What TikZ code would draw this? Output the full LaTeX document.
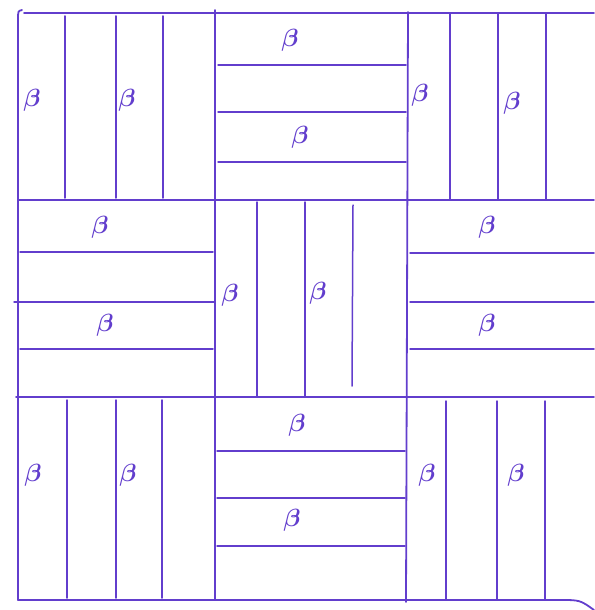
\documentclass[tikz,border=0pt]{standalone}
\usepackage{amsmath,bm}
\usepackage{xcolor}
\usepackage{tikz}
\definecolor{ink}{RGB}{98,62,205}
\tikzset{
  pen/.style   ={draw=ink,line width=1.8pt,line cap=round},
  strip/.style ={draw=ink,line width=1.5pt,line cap=round},
  bet/.style   ={text=ink,inner sep=0pt,font=\fontsize{28}{30}\selectfont},
}
\newcommand{\lab}{$\bm\beta$}

\begin{document}
\begin{tikzpicture}[x=1pt,y=-1pt]
  \useasboundingbox (0,0) rectangle (594,610);
  % frame and grid
  \draw[pen] (24,13) -- (594,13);
  \draw[pen] (22,10) .. controls (18,11) .. (18,20) -- (18,600);
  \draw[pen] (18,200) -- (594,200);
  \draw[pen] (16,397) -- (594,397);
  \draw[pen] (18,600) -- (560,600) .. controls (580,600) .. (594,610);
  \draw[pen] (215,10) -- (215,600);
  \draw[pen] (408,12) -- (406,602);
  % vertical stripes
  \foreach \x in {65,116,163} \draw[strip] (\x,16) -- (\x,198);
  \foreach \x in {450,498,546} \draw[strip] (\x,14) -- (\x,199);
  \foreach \x in {257,305} \draw[strip] (\x,202) -- (\x,396);
  \draw[strip] (353,205) -- (352,386);
  \foreach \x in {67,116,162} \draw[strip] (\x,400) -- (\x,598);
  \foreach \x in {446,497,545} \draw[strip] (\x,401) -- (\x,600);
  % horizontal stripes
  \foreach \y in {65,112,162} \draw[strip] (218,\y) -- (406,\y);
  \foreach \y in {252,349} \draw[strip] (20,\y) -- (213,\y);
  \draw[strip] (14,302) -- (215,302);
  \foreach \y in {253,302,349} \draw[strip] (410,\y) -- (594,\y);
  \foreach \y in {451,498,546} \draw[strip] (217,\y) -- (405,\y);
  % labels
  \node[bet] (tl1) at (32,100) {\lab};
  \node[bet] (tl2) at (127,100) {\lab};
  \node[bet] (tm1) at (290,40) {\lab};
  \node[bet] (tm2) at (300,137) {\lab};
  \node[bet] (tr1) at (420,95) {\lab};
  \node[bet] (tr2) at (512,103) {\lab};
  \node[bet] (ml1) at (100,227) {\lab};
  \node[bet] (ml2) at (105,325) {\lab};
  \node[bet] (c1) at (230,295) {\lab};
  \node[bet] (c2) at (318,293) {\lab};
  \node[bet] (mr1) at (487,227) {\lab};
  \node[bet] (mr2) at (487,325) {\lab};
  \node[bet] (bl1) at (33,475) {\lab};
  \node[bet] (bl2) at (128,475) {\lab};
  \node[bet] (bc1) at (297,425) {\lab};
  \node[bet] (bc2) at (292,520) {\lab};
  \node[bet] (br1) at (427,475) {\lab};
  \node[bet] (br2) at (516,475) {\lab};
\end{tikzpicture}
\end{document}
